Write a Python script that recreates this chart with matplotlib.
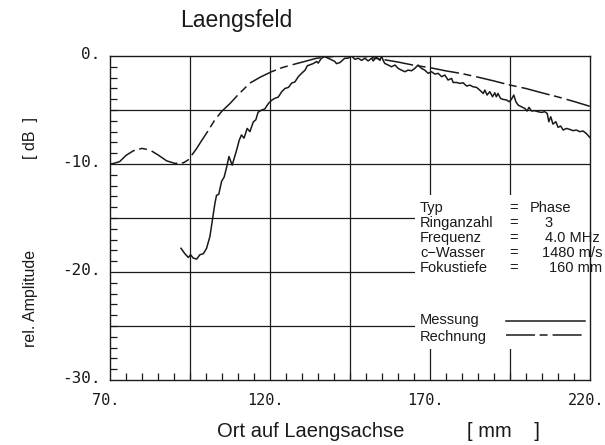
import numpy as np
import matplotlib
matplotlib.use('Agg')
import matplotlib.pyplot as plt
import matplotlib.transforms as mtransforms
from matplotlib.patches import Rectangle

# Messung (gemessener Verlauf)
x_mess = [92.2, 93.4, 94.5, 95.2, 96.0, 97.1, 98.1, 99.2, 100.2, 101.25,
          102.0, 102.8, 103.3, 104.0, 104.9, 105.7, 106.5, 107.2, 108.2, 109.6,
          110.4, 111.1, 111.9, 112.9, 113.75, 114.8, 115.6, 116.3, 117.4, 118.4,
          119.5, 120.5, 121.6, 122.6, 123.7, 124.7, 125.8, 126.8, 127.8, 128.9,
          129.9, 131.0, 131.7, 132.6, 133.5, 134.6, 135.1, 136.1, 137.2, 138.2,
          139.3, 140.3, 140.8, 141.9, 143.4, 144.4, 145.5, 146.6, 147.6, 148.7,
          149.7, 150.7, 151.8, 152.3, 153.3, 154.4, 154.9, 155.4, 155.9, 157.0,
          158.0, 159.1, 160.1, 161.1, 162.2, 163.2, 164.3, 165.3, 166.3, 167.4,
          168.4, 169.5, 170.5, 171.6, 172.6, 173.7, 174.7, 175.7, 176.8, 177.3,
          178.3, 179.4, 180.4, 181.5, 182.5, 183.5, 184.6, 185.6, 186.7, 187.2,
          187.9, 188.75, 189.6, 190.3, 190.8, 191.3, 192.1, 192.9, 194.0, 194.8,
          195.5, 196.25, 196.9, 197.6, 198.65, 199.7, 200.4, 201.0, 201.8, 202.8,
          203.8, 204.9, 205.9, 206.7, 207.2, 207.8, 208.5, 209.4, 210.1, 210.9,
          211.7, 212.7, 213.75, 214.8, 215.8, 216.9, 217.9, 218.9, 220.0]
y_mess = [-17.8, -18.3, -18.65, -18.4, -18.7, -18.8, -18.4, -18.3, -17.8, -16.7,
          -15.2, -13.65, -12.9, -12.8, -11.6, -11.2, -10.25, -9.3, -10.1, -8.7,
          -7.8, -7.3, -7.6, -6.7, -7.0, -6.1, -5.9, -5.2, -5.0, -4.9,
          -4.4, -4.1, -3.9, -3.8, -3.3, -3.0, -2.9, -2.5, -2.4, -1.9,
          -1.6, -1.3, -0.9, -0.8, -0.7, -0.5, -0.65, -0.2, -0.05, -0.2,
          -0.35, -0.5, -0.7, -0.6, -0.2, -0.2, 0.0, -0.3, -0.2, -0.4,
          -0.2, -0.45, -0.2, -0.45, -0.1, -0.4, 0.0, -0.4, -0.68, -0.83,
          -0.99, -0.83, -1.14, -1.3, -1.45, -1.3, -1.36, -1.14, -0.83, -1.14,
          -1.3, -1.6, -1.45, -1.67, -1.6, -1.91, -1.76, -2.22, -2.07, -2.45,
          -2.44, -2.53, -2.47, -2.78, -2.69, -2.84, -2.9, -3.15, -3.46, -3.15,
          -3.61, -3.3, -3.77, -3.4, -3.77, -3.46, -3.92, -4.01, -4.07, -4.23,
          -4.01, -3.61, -4.23, -4.54, -4.69, -4.85, -5.09, -4.75, -5.09, -5.06,
          -5.15, -5.22, -5.15, -5.31, -6.08, -5.62, -6.3, -6.08, -6.6, -6.48,
          -6.85, -6.7, -6.79, -6.91, -6.85, -7.0, -6.94, -7.16, -7.53]

# Rechnung (berechneter Verlauf)
x_rech = [70, 71, 73, 75, 77.3, 80, 82.5, 85, 87.7, 90.3, 93, 94.5, 95.5, 97,
          98.5, 100.5, 102.8, 105, 107.5, 110, 113.75, 117, 120.5, 124, 128.3,
          131.5, 134.6, 138, 142, 146, 150, 155, 160, 165, 170, 175, 180, 185,
          190, 195, 200, 205, 210, 215, 220]
y_rech = [-10.0, -9.95, -9.78, -9.2, -8.77, -8.55, -8.7, -9.15, -9.7, -9.94,
          -9.88, -9.6, -9.2, -8.6, -7.9, -7.0, -5.9, -5.1, -4.4, -3.6, -2.5,
          -1.95, -1.45, -1.05, -0.7, -0.45, -0.2, -0.08, 0, 0, -0.05, -0.3,
          -0.55, -0.85, -1.07, -1.37, -1.62, -1.95, -2.3, -2.68, -3.0, -3.4,
          -3.78, -4.2, -4.65]

x_ticks = [70, 120, 170, 220]
x_ticklabels = ['70.', '120.', '170.', '220.']
y_ticks = [0, -10, -20, -30]
y_ticklabels = ['0.', '-10.', '-20.', '-30.']
x_grid = [95, 120, 145, 170, 195]
y_grid = [-5, -10, -15, -20, -25]

param_names = ['Typ', 'Ringanzahl', 'Frequenz', 'c\u2212Wasser', 'Fokustiefe']
param_values = ['Phase', '3', '4.0 MHz', '1480 m/s', '160 mm']

sans = ['Liberation Sans', 'DejaVu Sans']
mono = ['DejaVu Sans Mono']
ink = '#1a1a1a'
# lang - kurz - Strichmuster (in Linienbreiten)
rechnung_dashes = (19, 3, 5.2, 3.3)

fig = plt.figure(figsize=(6.05, 4.45), dpi=100)
ax = fig.add_axes([0.1818, 0.146, 0.793, 0.728])

for xg in x_grid:
    ax.axvline(xg, color=ink, lw=0.9, zorder=1)
for yg in y_grid:
    ax.axhline(yg, color=ink, lw=0.9, zorder=1)

ax.plot(x_mess, y_mess, color=ink, lw=1.1, zorder=3)
ax.plot(x_rech, y_rech, color=ink, lw=1.1, dashes=rechnung_dashes, zorder=3)

ax.set_xlim(70, 220)
ax.set_ylim(-30, 0)
ax.set_xticks(x_ticks)
ax.set_xticklabels(x_ticklabels, family=mono, fontsize=11, color=ink)
ax.set_yticks(y_ticks)
ax.set_yticklabels(y_ticklabels, family=mono, fontsize=11.5, color=ink)
ax.set_xticks(np.arange(70, 221, 5), minor=True)
ax.set_yticks(np.arange(-30, 1, 1), minor=True)
ax.tick_params(which='major', length=0)
ax.tick_params(axis='x', which='major', pad=9)
ax.tick_params(axis='y', which='major', pad=7)
ax.tick_params(which='minor', direction='in', length=5, width=0.9, color=ink)
ax.tick_params(axis='x', which='minor', top=False)
ax.tick_params(axis='y', which='minor', right=False)
for s in ax.spines.values():
    s.set_color(ink)
    s.set_linewidth(1.0)

# Beschriftungen etwas verschieben (Plotterstil)
shift_x = mtransforms.ScaledTranslation(-4 / 100, 0, fig.dpi_scale_trans)
for lbl in ax.get_xticklabels():
    lbl.set_transform(lbl.get_transform() + shift_x)
shift_y = mtransforms.ScaledTranslation(0, 3 / 100, fig.dpi_scale_trans)
for lbl in ax.get_yticklabels():
    lbl.set_transform(lbl.get_transform() + shift_y)

# Parameterblock mit weissem Hintergrund
ax.add_patch(Rectangle((0.635, 0.096), 0.365, 0.475, transform=ax.transAxes,
                       facecolor='white', edgecolor='none', zorder=2))
rows = [0.531, 0.485, 0.438, 0.392, 0.346]
for name, yr in zip(param_names, rows):
    ax.text(0.646, yr, name, transform=ax.transAxes, family=sans,
            fontsize=10.5, va='center', color=ink, zorder=4)
    ax.text(0.833, yr, '=', transform=ax.transAxes, family=sans,
            fontsize=10.5, va='center', color=ink, zorder=4)
val_pos = [(0.875, 'left'), (0.906, 'left'), (1.021, 'right'),
           (1.027, 'right'), (1.025, 'right')]
for (xv, ha), val, yr in zip(val_pos, param_values, rows):
    ax.text(xv, yr, val, transform=ax.transAxes, family=sans,
            fontsize=10.5, va='center', ha=ha, color=ink, zorder=4,
            clip_on=False)

ax.text(0.646, 0.185, 'Messung', transform=ax.transAxes, family=sans,
        fontsize=10.5, va='center', color=ink, zorder=4)
ax.text(0.646, 0.133, 'Rechnung', transform=ax.transAxes, family=sans,
        fontsize=10.5, va='center', color=ink, zorder=4)
ax.plot([0.825, 0.990], [0.182, 0.182], transform=ax.transAxes, color=ink,
        lw=1.1, zorder=4)
ax.plot([0.825, 0.985], [0.139, 0.139], transform=ax.transAxes, color=ink,
        lw=1.1, dashes=rechnung_dashes, zorder=4)

fig.text(0.39, 0.953, 'Laengsfeld', family=sans, fontsize=16.5,
         ha='center', va='center', color=ink)
fig.text(0.05, 0.33, 'rel. Amplitude', family=sans, fontsize=11.5,
         rotation=90, ha='center', va='center', color=ink)
fig.text(0.05, 0.69, '[ dB  ]', family=sans, fontsize=11.5,
         rotation=90, ha='center', va='center', color=ink)
fig.text(0.513, 0.03, 'Ort auf Laengsachse', family=sans, fontsize=14.5,
         ha='center', va='center', color=ink)
fig.text(0.832, 0.03, '[ mm    ]', family=sans, fontsize=14.5,
         ha='center', va='center', color=ink)

plt.savefig('out.png', dpi=100)
